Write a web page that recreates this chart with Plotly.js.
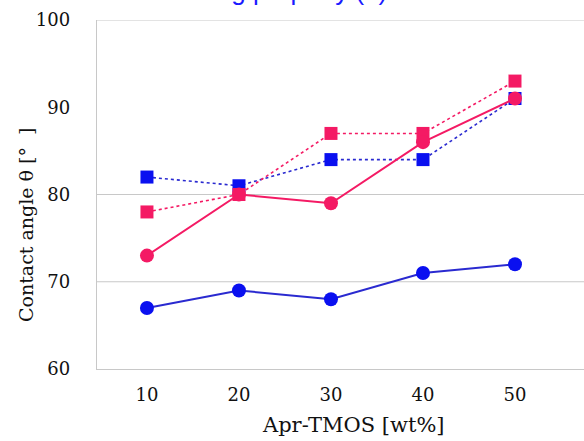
<!DOCTYPE html>
<html>
<head>
<meta charset="utf-8">
<script src="https://cdn.plot.ly/plotly-3.0.1.min.js"></script>
<style>html,body{margin:0;padding:0;background:#fff;}#chart{width:584px;height:441px;}</style>
</head>
<body>
<div id="chart"></div>
<script>
const xValues = [10, 20, 30, 40, 50];
const blueCircle = [67, 69, 68, 71, 72];
const pinkCircle = [73, 80, 79, 86, 91];
const blueSquare = [82, 81, 84, 84, 91];
const pinkSquare = [78, 80, 87, 87, 93];
const yTicks = [60, 70, 80, 90, 100];
const gridValues = [70, 80, 100];
const titleText = "Wetting property (2)";
const xTitle = "Apr-TMOS [wt%]";
const yTitle = "Contact angle θ [°&nbsp;&nbsp;]";

const BLUE = "#0a10f0";
const BLUE_LINE = "#2a2ad0";
const PINK = "#f41a64";
const SERIF = "DejaVu Serif, serif";

const traces = [
  {x: xValues, y: blueSquare, mode: "lines+markers", line: {color: BLUE_LINE, width: 1.6, dash: "dot"},
   marker: {symbol: "square", size: 13, color: BLUE}},
  {x: xValues, y: pinkSquare, mode: "lines+markers", line: {color: PINK, width: 1.6, dash: "dot"},
   marker: {symbol: "square", size: 13, color: PINK}},
  {x: xValues, y: blueCircle, mode: "lines+markers", line: {color: BLUE_LINE, width: 2},
   marker: {symbol: "circle", size: 14, color: BLUE}},
  {x: xValues, y: pinkCircle, mode: "lines+markers", line: {color: PINK, width: 2},
   marker: {symbol: "circle", size: 14, color: PINK}}
];

const shapes = gridValues.map(v => ({type: "line", xref: "paper", yref: "y", x0: 0, x1: 1, y0: v, y1: v,
  line: {color: "#c8c8c8", width: 1.2}, layer: "below"}));

const layout = {
  width: 584, height: 441,
  margin: {l: 97, r: 0, t: 20, b: 72},
  paper_bgcolor: "#fff", plot_bgcolor: "#fff",
  showlegend: false,
  xaxis: {range: [4.57, 57.5], tickvals: xValues, ticktext: xValues.map(String), showgrid: false, zeroline: false,
    showline: true, linecolor: "#c8c8c8", linewidth: 1.2, ticks: "", ticklen: 0, ticklabelstandoff: 9,
    tickfont: {family: SERIF, size: 18, color: "#111"}},
  yaxis: {range: [60, 100], tickvals: yTicks, showgrid: false, zeroline: false,
    showline: true, linecolor: "#c8c8c8", linewidth: 1.2, ticks: "", ticklen: 0, ticklabelstandoff: 22,
    tickfont: {family: SERIF, size: 18, color: "#111"}},
  shapes: shapes,
  annotations: [
    {text: titleText, xref: "paper", yref: "paper", x: 0.6, y: 1.034, xanchor: "right", yanchor: "bottom",
     showarrow: false, font: {family: "Liberation Sans, Arial, sans-serif", size: 26, color: "#1a1aff"}},
    {text: xTitle, xref: "paper", yref: "paper", x: (353 - 97) / 487, y: -(425 - 369) / 349, xanchor: "center", yanchor: "middle",
     showarrow: false, font: {family: SERIF, size: 21, color: "#111"}},
    {text: yTitle, xref: "paper", yref: "paper", x: -(97 - 26) / 487, y: (369 - 225) / 349, xanchor: "center", yanchor: "middle",
     textangle: -90, showarrow: false, font: {family: SERIF, size: 19, color: "#111"}}
  ]
};

Plotly.newPlot("chart", traces, layout, {displayModeBar: false, staticPlot: true});
</script>
</body>
</html>
